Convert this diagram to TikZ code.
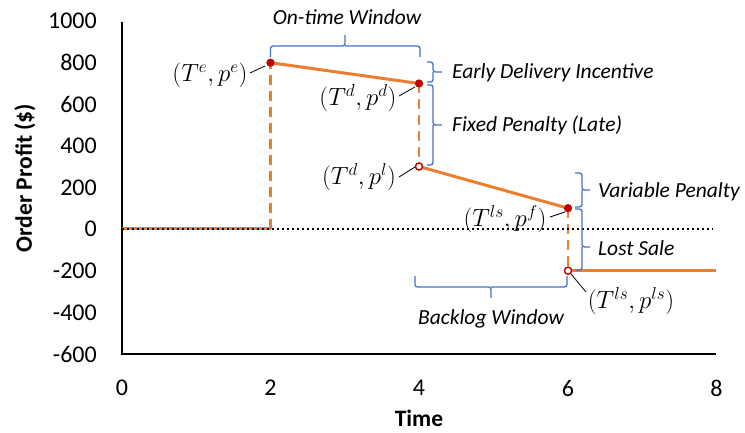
\documentclass[tikz,border=0pt]{standalone}
\usepackage{fontspec}
\setmainfont{Carlito}
\definecolor{orangeC}{HTML}{ED7D31}
\definecolor{dotC}{HTML}{C00000}
\definecolor{braceC}{HTML}{4472C4}
\begin{document}
\begin{tikzpicture}[x=1pt,y=-1pt,
 ax/.style={line width=1.2pt,black},
 prof/.style={line width=3pt,orangeC},
 drop/.style={line width=2.8pt,orangeC,dash pattern=on 10pt off 6pt},
 zero/.style={line width=2pt,black,dash pattern=on 2pt off 3pt},
 brc/.style={line width=1.3pt,braceC,rounded corners=2.5pt},
 lbl/.style={font=\fontsize{21.5}{25}\selectfont\itshape,inner sep=0},
 tick/.style={font=\fontsize{24}{28}\selectfont,inner sep=0},
 axt/.style={font=\fontsize{23.5}{27}\selectfont\bfseries,inner sep=0},
 mlab/.style={font=\fontsize{23}{27}\selectfont,inner sep=0},
 lead/.style={line width=0.8pt,black},
 fdot/.style={circle,fill=dotC,inner sep=0,minimum size=8pt},
 odot/.style={circle,draw=dotC,fill=white,line width=1.3pt,inner sep=0,minimum size=7pt}]
\useasboundingbox (0,0) rectangle (745,433);
% axes
\coordinate (o) at (122,354);
\coordinate (ytop) at (122,22);
\coordinate (xend) at (716,354);
\draw[ax] (ytop) -- (o) -- (xend);
% y tick labels
\foreach \v/\y in {1000/21,800/62.7,600/104.3,400/146,200/187.5,0/229,-200/270.7,-400/312.3,-600/354}
  \node[tick,anchor=east] (yl\v) at (97,\y) {\v};
\foreach \v/\x in {0/122,2/270.5,4/419,6/568,8/716.5}
  \node[tick] (xl\v) at (\x,388) {\v};
\node[axt] (xt) at (419,418) {Time};
\node[axt,rotate=90] (yt) at (25,178) {Order Profit (\$)};
% profit curve
\coordinate (a0) at (122,229);
\coordinate (a1) at (270.5,229);
\coordinate (zend) at (713,229);
\node[fdot] (pe) at (270.5,62.7) {};
\node[fdot] (pd) at (419,83.5) {};
\node[odot] (pl) at (419,166.5) {};
\node[fdot] (pf) at (568,208.2) {};
\node[odot] (pls) at (568,270.7) {};
\coordinate (tail) at (716,270.7);
\draw[prof] (a0) -- (a1);
\draw[drop] (a1) -- (pe.center);
\draw[drop] (pd.center) -- (pl.center);
\draw[drop] (pf.center) -- (pls.center);
\draw[prof] (pe.center) -- (pd.center);
\draw[prof] (pl.center) -- (pf.center);
\draw[prof] (pls.center) -- (tail);
\draw[zero] (a0) -- (zend);
\node[fdot] at (pe) {};
\node[fdot] at (pd) {};
\node[odot] at (pl) {};
\node[fdot] at (pf) {};
\node[odot] at (pls) {};
% braces
\draw[brc] (270.5,57) -- (270.5,46) -- (345,46) -- (345,35) (345,46) -- (420,46) -- (420,57);
\node[lbl] (ow) at (347,17) {On-time Window};
\draw[brc] (427,62) -- (433,62) -- (433,72) -- (442,72) (433,72) -- (433,82) -- (427,82);
\node[lbl,anchor=west] (edi) at (452,73) {Early Delivery Incentive};
\draw[brc] (427,85) -- (433,85) -- (433,125) -- (442,125) (433,125) -- (433,165) -- (427,165);
\node[lbl,anchor=west] (fp) at (452,125) {Fixed Penalty (Late)};
\draw[brc] (575,173) -- (582,173) -- (582,190) -- (590,190) (582,190) -- (582,207) -- (575,207);
\node[lbl,anchor=west] (vp) at (598,192) {Variable Penalty};
\draw[brc] (575,209) -- (582,209) -- (582,247) -- (590,247) (582,247) -- (582,270) -- (575,270);
\node[lbl,anchor=west] (ls) at (598,248) {Lost Sale};
\draw[brc] (415,276) -- (415,287) -- (491,287) -- (491,298) (491,287) -- (567,287) -- (567,276);
\node[lbl] (bw) at (491,319) {Backlog Window};
% point labels
\node[mlab] (le) at (210,75) {$(T^e,p^e)$};
\node[mlab] (ld) at (358,98) {$(T^d,p^d)$};
\node[mlab] (ll) at (359,177) {$(T^d,p^l)$};
\node[mlab] (lf) at (505,219) {$(T^{ls},p^f)$};
\node[mlab] (lls) at (631,301) {$(T^{ls},p^{ls})$};
\coordinate (ce) at (265,66); \coordinate (ee) at (250,73);
\coordinate (cd) at (415,87); \coordinate (ed) at (399,96);
\coordinate (cl) at (415,167); \coordinate (el) at (399,177);
\coordinate (cf) at (565,212); \coordinate (ef) at (550,217);
\coordinate (cls) at (571,274); \coordinate (els) at (586,292);
\draw[lead] (ee) -- (ce);
\draw[lead] (ed) -- (cd);
\draw[lead] (el) -- (cl);
\draw[lead] (ef) -- (cf);
\draw[lead] (cls) -- (els);
\end{tikzpicture}
\end{document}
